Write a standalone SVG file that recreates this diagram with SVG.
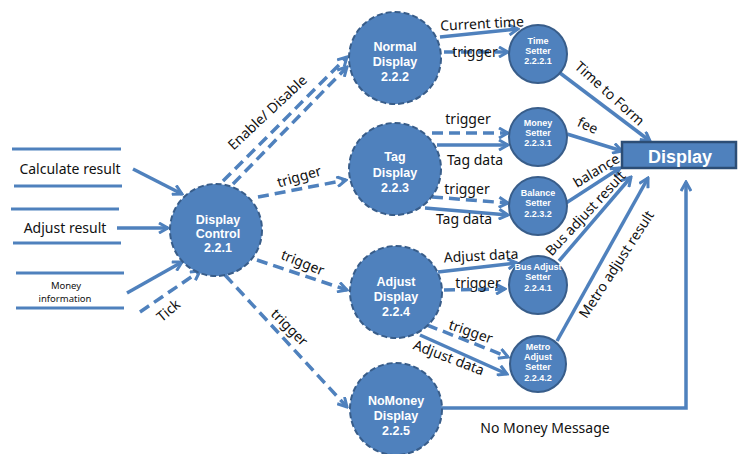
<svg xmlns="http://www.w3.org/2000/svg" width="739" height="454" viewBox="0 0 739 454">
  <style>
    .flow { fill: none; stroke: #4f81bd; stroke-width: 3.5; }
    .dash { stroke-dasharray: 11 6; }
    .store { stroke: #4f81bd; stroke-width: 3; }
    .proc { fill: #4f81bd; stroke: #385d8a; stroke-width: 2; stroke-dasharray: 6 3; }
    .sub { fill: #4f81bd; stroke: #385d8a; stroke-width: 2; }
    .ptext { font-family: "Liberation Sans", Arial, sans-serif; font-weight: bold; font-size: 12.5px; fill: #ffffff; text-anchor: middle; }
    .stext { font-family: "Liberation Sans", Arial, sans-serif; font-weight: bold; font-size: 9px; fill: #ffffff; text-anchor: middle; }
    .lbl { font-family: "Noto Sans", "Open Sans", sans-serif; font-size: 14px; fill: #111111; text-anchor: middle; dominant-baseline: central; }
    .stlbl { font-family: "Noto Sans", "Open Sans", sans-serif; font-size: 14px; fill: #111111; text-anchor: middle; dominant-baseline: central; }
    .small { font-size: 9.5px; }
  </style>
  <defs>
    <marker id="arr" viewBox="0 0 12 12" refX="10" refY="6" markerWidth="12" markerHeight="12" markerUnits="userSpaceOnUse" orient="auto">
      <path d="M1,1 L10,6 L1,11" fill="none" stroke="#4f81bd" stroke-width="3" stroke-dasharray="none"/>
    </marker>
  </defs>
  <rect width="739" height="454" fill="#ffffff"/>

  <!-- data stores -->
  <g id="store-calculate">
    <line class="store" x1="12" y1="149" x2="121" y2="149"/>
    <line class="store" x1="14" y1="186" x2="122" y2="186"/>
    <text class="stlbl" x="70" y="168">Calculate result</text>
  </g>
  <g id="store-adjust">
    <line class="store" x1="11" y1="209" x2="119" y2="209"/>
    <line class="store" x1="13" y1="243" x2="121" y2="243"/>
    <text class="stlbl" x="65" y="227">Adjust result</text>
  </g>
  <g id="store-money">
    <line class="store" x1="16" y1="273" x2="124" y2="273"/>
    <line class="store" x1="16" y1="308" x2="124" y2="308"/>
    <text class="stlbl small" x="66" y="285">Money</text>
    <text class="stlbl small" x="65" y="298.5">information</text>
  </g>

  <!-- connectors -->
  <g id="connectors">
    <!-- inputs to Display Control -->
    <line class="flow" x1="133" y1="169" x2="182" y2="194" marker-end="url(#arr)"/>
    <line class="flow" x1="117" y1="228" x2="168" y2="228" marker-end="url(#arr)"/>
    <line class="flow" x1="127" y1="293" x2="182" y2="262" marker-end="url(#arr)"/>
    <line class="flow dash" x1="140" y1="312" x2="200" y2="271" marker-end="url(#arr)"/>
    <!-- Display Control outputs -->
    <line class="flow dash" x1="223" y1="181" x2="347" y2="57" marker-end="url(#arr)"/>
    <line class="flow dash" x1="233" y1="184" x2="347" y2="67" marker-end="url(#arr)"/>
    <line class="flow dash" x1="258" y1="197" x2="346" y2="180" marker-end="url(#arr)"/>
    <line class="flow dash" x1="257" y1="260" x2="347" y2="290" marker-end="url(#arr)"/>
    <line class="flow dash" x1="225" y1="275" x2="347" y2="407" marker-end="url(#arr)"/>
    <!-- Normal Display -->
    <line class="flow" x1="440" y1="37" x2="518" y2="29" marker-end="url(#arr)"/>
    <line class="flow dash" x1="444" y1="52" x2="508" y2="52" marker-end="url(#arr)"/>
    <!-- Tag Display -->
    <line class="flow dash" x1="432" y1="133" x2="508" y2="133" marker-end="url(#arr)"/>
    <line class="flow" x1="437" y1="145" x2="508" y2="145" marker-end="url(#arr)"/>
    <line class="flow dash" x1="432" y1="197" x2="508" y2="203" marker-end="url(#arr)"/>
    <line class="flow" x1="425" y1="208" x2="508" y2="215" marker-end="url(#arr)"/>
    <!-- Adjust Display -->
    <line class="flow" x1="438" y1="272" x2="517" y2="263" marker-end="url(#arr)"/>
    <line class="flow dash" x1="444" y1="290" x2="505" y2="289" marker-end="url(#arr)"/>
    <line class="flow dash" x1="427" y1="325" x2="508" y2="357" marker-end="url(#arr)"/>
    <line class="flow" x1="420" y1="335" x2="507" y2="374" marker-end="url(#arr)"/>
    <!-- setters to Display -->
    <line class="flow" x1="560" y1="73" x2="650" y2="141" marker-end="url(#arr)"/>
    <line class="flow" x1="567" y1="134" x2="622" y2="151" marker-end="url(#arr)"/>
    <line class="flow" x1="566" y1="203" x2="620" y2="168" marker-end="url(#arr)"/>
    <line class="flow" x1="559" y1="261" x2="631" y2="177" marker-end="url(#arr)"/>
    <line class="flow" x1="557" y1="341" x2="648" y2="178" marker-end="url(#arr)"/>
    <polyline class="flow" points="442,408 686,408 686,182" marker-end="url(#arr)"/>

    <!-- connector labels -->
    <text class="lbl" transform="translate(267,112) rotate(-43)">Enable/ Disable</text>
    <text class="lbl" transform="translate(299,176) rotate(-16)">trigger</text>
    <text class="lbl" transform="translate(303,262) rotate(22)">trigger</text>
    <text class="lbl" transform="translate(290,327) rotate(45)">trigger</text>
    <text class="lbl" transform="translate(168,310) rotate(-40)">Tick</text>
    <text class="lbl" transform="translate(482,23) rotate(-3)">Current time</text>
    <text class="lbl" x="475" y="51">trigger</text>
    <text class="lbl" x="468" y="118">trigger</text>
    <text class="lbl" x="475" y="159">Tag data</text>
    <text class="lbl" x="467" y="188">trigger</text>
    <text class="lbl" x="464" y="218">Tag data</text>
    <text class="lbl" transform="translate(481,255) rotate(-3)">Adjust data</text>
    <text class="lbl" x="478" y="282">trigger</text>
    <text class="lbl" transform="translate(471,331) rotate(19)">trigger</text>
    <text class="lbl" transform="translate(449,357) rotate(21)">Adjust data</text>
    <text class="lbl" transform="translate(610,93) rotate(42)">Time to Form</text>
    <text class="lbl" transform="translate(588,125) rotate(24)">fee</text>
    <text class="lbl" transform="translate(596,170) rotate(-31)">balance</text>
    <text class="lbl" transform="translate(585,213) rotate(-47)">Bus adjust result</text>
    <text class="lbl" transform="translate(616,264) rotate(-57)">Metro adjust result</text>
    <text class="lbl" x="545" y="427">No Money Message</text>
  </g>

  <!-- processes -->
  <g id="display-control">
    <circle class="proc" cx="216" cy="230" r="46"/>
    <text class="ptext" x="218" y="224">Display</text>
    <text class="ptext" x="218" y="238">Control</text>
    <text class="ptext" x="218" y="252">2.2.1</text>
  </g>
  <g id="normal-display">
    <circle class="proc" cx="395" cy="58" r="46"/>
    <text class="ptext" x="395" y="51">Normal</text>
    <text class="ptext" x="395" y="66">Display</text>
    <text class="ptext" x="395" y="81">2.2.2</text>
  </g>
  <g id="tag-display">
    <circle class="proc" cx="395" cy="169" r="46"/>
    <text class="ptext" x="395" y="161">Tag</text>
    <text class="ptext" x="395" y="177">Display</text>
    <text class="ptext" x="395" y="192">2.2.3</text>
  </g>
  <g id="adjust-display">
    <circle class="proc" cx="396" cy="292" r="46"/>
    <text class="ptext" x="396" y="286">Adjust</text>
    <text class="ptext" x="396" y="301">Display</text>
    <text class="ptext" x="396" y="316">2.2.4</text>
  </g>
  <g id="nomoney-display">
    <circle class="proc" cx="396" cy="409" r="46"/>
    <text class="ptext" x="396" y="405">NoMoney</text>
    <text class="ptext" x="396" y="420">Display</text>
    <text class="ptext" x="396" y="435">2.2.5</text>
  </g>

  <!-- setters -->
  <g id="time-setter">
    <circle class="sub" cx="538" cy="54" r="29"/>
    <text class="stext" x="538" y="44">Time</text>
    <text class="stext" x="538" y="54">Setter</text>
    <text class="stext" x="538" y="64">2.2.2.1</text>
  </g>
  <g id="money-setter">
    <circle class="sub" cx="538" cy="137" r="29"/>
    <text class="stext" x="538" y="126">Money</text>
    <text class="stext" x="538" y="136">Setter</text>
    <text class="stext" x="538" y="146">2.2.3.1</text>
  </g>
  <g id="balance-setter">
    <circle class="sub" cx="538" cy="206" r="29"/>
    <text class="stext" x="538" y="196">Balance</text>
    <text class="stext" x="538" y="206">Setter</text>
    <text class="stext" x="538" y="217">2.2.3.2</text>
  </g>
  <g id="bus-adjust-setter">
    <circle class="sub" cx="538" cy="285" r="29"/>
    <text class="stext" x="538" y="270">Bus Adjust</text>
    <text class="stext" x="538" y="280">Setter</text>
    <text class="stext" x="538" y="291">2.2.4.1</text>
  </g>
  <g id="metro-adjust-setter">
    <circle class="sub" cx="538" cy="364" r="28"/>
    <text class="stext" x="538" y="350">Metro</text>
    <text class="stext" x="538" y="360">Adjust</text>
    <text class="stext" x="538" y="370">Setter</text>
    <text class="stext" x="538" y="381">2.2.4.2</text>
  </g>

  <!-- terminator -->
  <g id="display">
    <rect x="622" y="142" width="114" height="26" fill="#4f81bd" stroke="#2c4d75" stroke-width="2.5"/>
    <text x="680" y="163" font-family="Liberation Sans, Arial, sans-serif" font-weight="bold" font-size="18" fill="#ffffff" text-anchor="middle">Display</text>
  </g>
</svg>
